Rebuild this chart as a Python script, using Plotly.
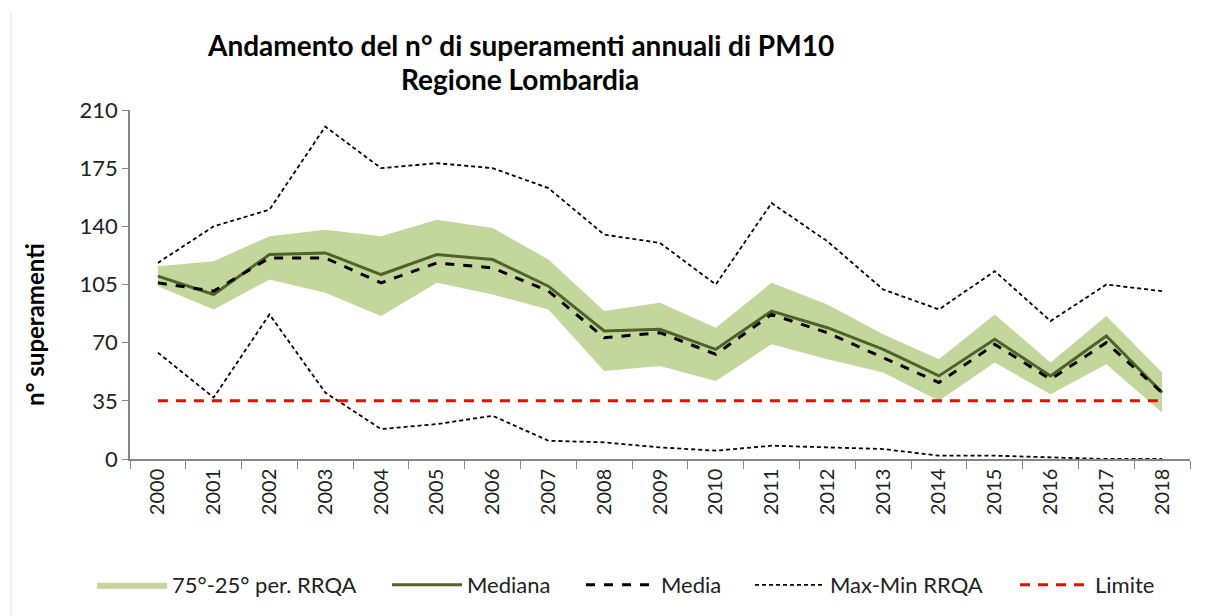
import plotly.graph_objects as go

years = [str(y) for y in range(2000, 2019)]
p75 = [116, 119, 134, 138, 134, 144, 139, 120, 89, 94, 79, 106, 93, 75, 60, 87, 58, 86, 52]
p25 = [104, 90, 108, 100, 86, 106, 99, 90, 53, 56, 47, 69, 60, 52, 35, 58, 39, 57, 28]
mediana = [110, 99, 123, 124, 111, 123, 120, 104, 77, 78, 66, 89, 79, 66, 50, 72, 50, 74, 40]
media = [106, 101, 121, 121, 106, 118, 115, 101, 73, 76, 63, 87, 76, 61, 46, 69, 48, 70, 40]
maxv = [118, 140, 150, 200, 175, 178, 175, 163, 135, 130, 105, 154, 131, 102, 90, 113, 83, 105, 101]
minv = [64, 37, 87, 40, 18, 21, 26, 11, 10, 7, 5, 8, 7, 6, 2, 2, 1, 0, 0]
limite = [35] * 19

FONT = "Lato, Open Sans, sans-serif"

# figure geometry (page is offset by the 8px body margin)
L, R, T, B = 122, 42, 102, 165
PW = 1224 - L - R
PH = 616 - T - B


def px(xf):
    return (xf - L) / PW


def py(yf):
    return (616 - B - yf) / PH


fig = go.Figure()
fig.add_trace(go.Scatter(x=years, y=p25, mode="lines", line=dict(width=0, color="#C3D69B"),
                         showlegend=False, hoverinfo="skip"))
fig.add_trace(go.Scatter(x=years, y=p75, mode="lines", line=dict(width=0, color="#C3D69B"),
                         fill="tonexty", fillcolor="#C3D69B", name="75°-25° per. RRQA", legend="legend"))
fig.add_trace(go.Scatter(x=years, y=mediana, mode="lines", line=dict(width=3, color="#4F6228"),
                         name="Mediana", legend="legend2"))
fig.add_trace(go.Scatter(x=years, y=media, mode="lines", line=dict(width=3, color="black", dash="dash"),
                         name="Media", legend="legend3"))
fig.add_trace(go.Scatter(x=years, y=maxv, mode="lines", line=dict(width=1.8, color="black", dash="4px,3px"),
                         name="Max-Min RRQA", legendgroup="mm", legend="legend4"))
fig.add_trace(go.Scatter(x=years, y=minv, mode="lines", line=dict(width=1.8, color="black", dash="4px,3px"),
                         name="Max-Min RRQA", legendgroup="mm", showlegend=False, legend="legend4"))
fig.add_trace(go.Scatter(x=years, y=limite, mode="lines", line=dict(width=3, color="#FF0000", dash="10px,8px"),
                         name="Limite", legend="legend5"))

leg_y = py(577)
leg_common = dict(orientation="h", xanchor="left", yanchor="middle", y=leg_y,
                  font=dict(size=22, family=FONT, color="#222222"), itemwidth=70,
                  bgcolor="rgba(0,0,0,0)")
leg_x = [84, 379, 573, 742, 1007]

fig.update_layout(
    width=1224, height=616,
    margin=dict(l=L, r=R, t=T, b=B),
    paper_bgcolor="white", plot_bgcolor="white",
    font=dict(family=FONT, color="black"),
    showlegend=True,
    legend=dict(x=px(leg_x[0]), **leg_common),
    legend2=dict(x=px(leg_x[1]), **leg_common),
    legend3=dict(x=px(leg_x[2]), **leg_common),
    legend4=dict(x=px(leg_x[3]), **leg_common),
    legend5=dict(x=px(leg_x[4]), **leg_common),
    annotations=[
        dict(text="<b>Andamento del n° di superamenti annuali di PM10</b>", xref="paper", yref="paper",
             x=px(512), y=py(37), xanchor="center", yanchor="middle", showarrow=False,
             font=dict(size=28, family=FONT, color="black")),
        dict(text="<b>Regione Lombardia</b>", xref="paper", yref="paper",
             x=px(512), y=py(71), xanchor="center", yanchor="middle", showarrow=False,
             font=dict(size=28, family=FONT, color="black")),
        dict(text="<b>n° superamenti</b>", xref="paper", yref="paper", textangle=-90,
             x=px(26), y=py(317), xanchor="center", yanchor="middle", showarrow=False,
             font=dict(size=24, family=FONT, color="black")),
    ],
    shapes=[dict(type="line", xref="paper", yref="paper", x0=px(3), x1=px(3), y0=py(4), y1=py(612),
                 line=dict(color="#E4E4E4", width=1))],
)
fig.update_xaxes(type="category", showline=True, linecolor="#868686", linewidth=1.5,
                 ticks="outside", tickson="boundaries", ticklen=8, tickcolor="#868686",
                 tickangle=-90, tickfont=dict(size=20, color="#222222"), showgrid=False, range=[-0.5, 18.5])
fig.update_yaxes(range=[0, 210], tickvals=[0, 35, 70, 105, 140, 175, 210], showline=True,
                 linecolor="#868686", linewidth=1.5, ticks="outside", ticklen=6, tickcolor="#868686",
                 tickfont=dict(size=22, color="#222222"), showgrid=False, zeroline=False)

fig.write_html("out.html")
